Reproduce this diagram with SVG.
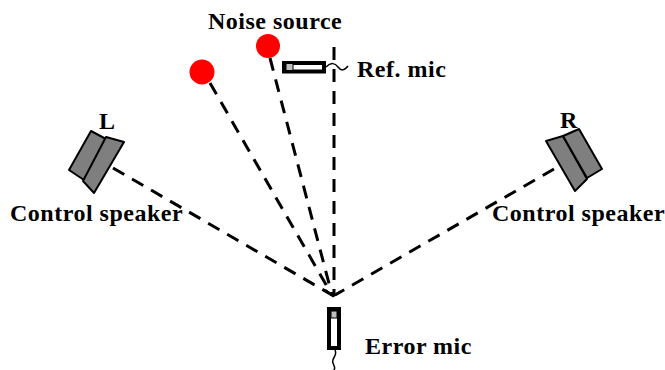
<svg xmlns="http://www.w3.org/2000/svg" width="665" height="370" viewBox="0 0 665 370">
<style>
.t{font-family:"Liberation Serif","Times New Roman",serif;font-weight:bold;font-size:24px;letter-spacing:.5px;fill:#000}
.d{fill:none;stroke:#000;stroke-width:3;stroke-dasharray:13 9}
.s{fill:#7f7f7f;stroke:#000;stroke-width:2;stroke-linejoin:round}
.w{fill:none;stroke:#000;stroke-width:1.500}
.g{fill:#bfbfbf;stroke:#000;stroke-width:1}
</style>
<rect width="665" height="370" fill="#fff"/>
<g id="connectors">
<path class="d" d="M334 47V296"/>
<path class="d" d="M270 58L332 295"/>
<path class="d" d="M210 83L332 295"/>
<path class="d" d="M113 168L332 295"/>
<path class="d" d="M554 169L335 295"/>
</g>
<g id="noise1"><circle cx="202" cy="72" r="12.500" fill="#f00"/></g>
<g id="noise2"><circle cx="268" cy="46" r="12" fill="#f00"/></g>
<text class="t" x="208" y="29">Noise source</text>
<g id="refmic">
<rect x="284" y="63" width="40" height="8.500" fill="#fff" stroke="#000" stroke-width="4"/>
<rect x="286" y="63.500" width="7" height="7" class="g"/>
<path class="w" d="M326 67C331 62 335 63 338 67S344 71 348 66"/>
<text class="t" x="357" y="77">Ref. mic</text>
</g>
<g id="speakerL">
<path class="s" d="M91 131L106 139L84 180L69 170Z"/>
<path class="s" d="M106 137L124 142L94 193L83 181Z"/>
<text class="t" x="99" y="129">L</text>
<text class="t" x="10" y="221">Control speaker</text>
</g>
<g id="speakerR">
<path class="s" d="M546 141L563 136L587 179L575 191Z"/>
<path class="s" d="M563 136L579 129L602 169L587 178Z"/>
<text class="t" x="560" y="128">R</text>
<text class="t" x="492" y="221">Control speaker</text>
</g>
<g id="errormic">
<rect x="329" y="309" width="10" height="39" fill="#fff" stroke="#000" stroke-width="4"/>
<rect x="331" y="311" width="6" height="7" class="g"/>
<path class="w" d="M335 350C338 356 331 358 333 363S335 368 334 370"/>
<path d="M325 290L333 296L342 291" fill="none" stroke="#000" stroke-width="2.500"/>
<text class="t" x="365" y="354">Error mic</text>
</g>
</svg>
